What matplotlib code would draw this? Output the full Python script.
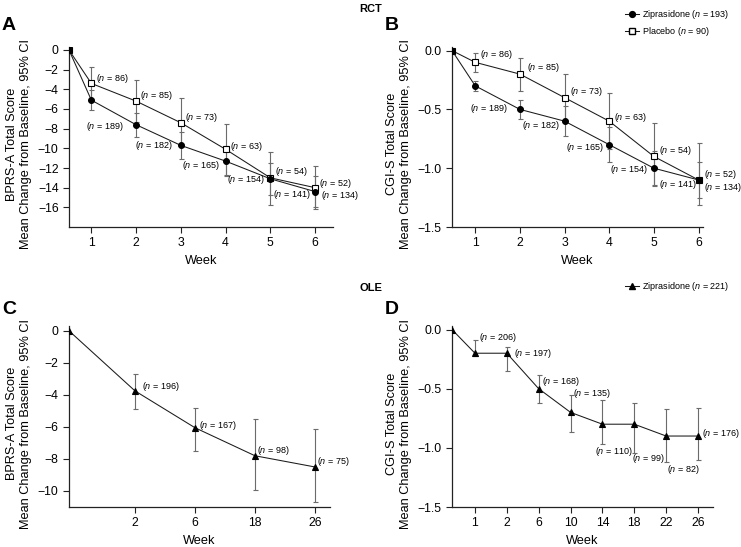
import matplotlib
matplotlib.use("Agg")
import matplotlib.pyplot as plt
from matplotlib.lines import Line2D

plt.rcParams['font.family'] = ['Liberation Sans', 'DejaVu Sans']
plt.rcParams['mathtext.fontset'] = 'custom'
plt.rcParams['mathtext.it'] = 'Liberation Sans:italic'
plt.rcParams['mathtext.rm'] = 'Liberation Sans'

# ---- RCT data (baseline + weeks 1-6) ----
rct_weeks = [1, 2, 3, 4, 5, 6]

bprs_zip = [0, -5.1, -7.6, -9.7, -11.3, -13.1, -14.4]
bprs_zip_lo = [0, -6.1, -8.8, -11.1, -12.8, -14.7, -16.0]
bprs_zip_hi = [0, -4.1, -6.4, -8.3, -9.8, -11.5, -12.8]
bprs_pbo = [0, -3.4, -5.2, -7.4, -10.1, -13.0, -14.0]
bprs_pbo_lo = [0, -5.1, -7.3, -9.9, -12.7, -15.8, -16.2]
bprs_pbo_hi = [0, -1.7, -3.1, -4.9, -7.5, -10.4, -11.8]
bprs_zip_n = [189, 182, 165, 154, 141, 134]
bprs_pbo_n = [86, 85, 73, 63, 54, 52]

cgi_zip = [0, -0.3, -0.5, -0.6, -0.8, -1.0, -1.1]
cgi_zip_lo = [0, -0.34, -0.58, -0.73, -0.95, -1.15, -1.25]
cgi_zip_hi = [0, -0.26, -0.42, -0.47, -0.65, -0.85, -0.95]
cgi_pbo = [0, -0.1, -0.2, -0.4, -0.6, -0.9, -1.1]
cgi_pbo_lo = [0, -0.18, -0.34, -0.6, -0.84, -1.14, -1.31]
cgi_pbo_hi = [0, -0.02, -0.06, -0.2, -0.36, -0.62, -0.79]
cgi_zip_n = [189, 182, 165, 154, 141, 134]
cgi_pbo_n = [86, 85, 73, 63, 54, 52]

# ---- OLE data ----
ole_bprs_weeks = ['2', '6', '18', '26']
ole_bprs = [0, -3.75, -6.05, -7.8, -8.5]
ole_bprs_lo = [0, -4.9, -7.5, -9.95, -10.7]
ole_bprs_hi = [0, -2.7, -4.8, -5.5, -6.15]
ole_bprs_n = [196, 167, 98, 75]

ole_cgi_weeks = ['1', '2', '6', '10', '14', '18', '22', '26']
ole_cgi = [0, -0.2, -0.2, -0.5, -0.7, -0.8, -0.8, -0.9, -0.9]
ole_cgi_lo = [0, -0.22, -0.35, -0.625, -0.87, -0.97, -1.04, -1.12, -1.1]
ole_cgi_hi = [0, -0.085, -0.15, -0.38, -0.555, -0.595, -0.625, -0.675, -0.665]
ole_cgi_n = [206, 197, 168, 135, 110, 99, 82, 176]

# label offsets in pixels (dx, dy), text left-aligned
off_a_pbo = [(5, 5), (4, 6), (4, 5), (4, 3), (5, 6), (4, 4)]
off_a_zip = [(-5, -26), (-1, -21), (1, -20), (1, -18), (3, -16), (6, -4)]
off_b_pbo = [(5, 8), (7, 7), (5, 6), (5, 4), (5, 6), (5, 5)]
off_b_zip = [(-5, -23), (2, -16), (1, -26), (1, -25), (5, -16), (5, -8)]
off_c = [(7, 4), (4, 2), (2, 5), (2, 5)]
off_d = [(4, 16), (7, 0), (3, 7), (2, 19), (-7, -27), (-2, -34), (1, -33), (4, 3)]

ERR = '#6b6b6b'
LAB = 6.5


def nlab(n):
    return r'($\it{n}$ = %d)' % n


def style_axes(ax, ylabel, ylab_x):
    for s in ['top', 'right']:
        ax.spines[s].set_visible(False)
    for s in ['left', 'bottom']:
        ax.spines[s].set_linewidth(0.9)
        ax.spines[s].set_color('#222222')
    ax.tick_params(direction='out', length=4, width=0.8, labelsize=8.8, color='#222222')
    ax.set_ylabel(ylabel, fontsize=9.2, linespacing=1.25)
    ax.yaxis.set_label_coords(ylab_x, 0.46)
    ax.set_xlabel('Week', fontsize=9.2)
    ax.xaxis.set_label_coords(0.5, -0.155)


def draw_series(ax, x, y, lo, hi, marker, face, ms):
    yerr = [[yy - l for yy, l in zip(y, lo)], [h - yy for yy, h in zip(y, hi)]]
    ax.errorbar(x[1:], y[1:], yerr=[yerr[0][1:], yerr[1][1:]], fmt='none',
                ecolor=ERR, elinewidth=0.8, capsize=1.8, capthick=0.8, zorder=2)
    ax.plot(x, y, color='#1a1a1a', lw=0.75, marker=marker, ms=ms,
            mfc=face, mec='black', mew=0.8, zorder=3)


def annotate(ax, x, y, ns, offs):
    for xi, yi, n, (dx, dy) in zip(x, y, ns, offs):
        ax.annotate(nlab(n), (xi, yi), xytext=(dx, dy), textcoords='offset pixels',
                    fontsize=LAB, ha='left', va='center')


fig = plt.figure(figsize=(7.41, 5.47), dpi=100)

# Panel A
axA = fig.add_axes([0.0931, 0.585, 0.3563, 0.329])
x0 = 0.5
xr = [x0] + rct_weeks
draw_series(axA, xr, bprs_pbo, bprs_pbo_lo, bprs_pbo_hi, 's', 'white', 4.2)
draw_series(axA, xr, bprs_zip, bprs_zip_lo, bprs_zip_hi, 'o', 'black', 4.2)
annotate(axA, xr[1:], bprs_pbo[1:], bprs_pbo_n, off_a_pbo)
annotate(axA, xr[1:], bprs_zip[1:], bprs_zip_n, off_a_zip)
axA.set_xlim(x0, 6.4)
axA.set_ylim(-18, 0.3)
axA.set_xticks(rct_weeks)
axA.set_yticks(range(0, -17, -2))
style_axes(axA, 'BPRS-A Total Score\nMean Change from Baseline, 95% CI', -0.14)

# Panel B
axB = fig.add_axes([0.61, 0.585, 0.3387, 0.329])
x0b = 0.48
xb = [x0b] + rct_weeks
draw_series(axB, xb, cgi_pbo, cgi_pbo_lo, cgi_pbo_hi, 's', 'white', 4.2)
draw_series(axB, xb, cgi_zip, cgi_zip_lo, cgi_zip_hi, 'o', 'black', 4.2)
annotate(axB, xb[1:], cgi_pbo[1:], cgi_pbo_n, off_b_pbo)
annotate(axB, xb[1:], cgi_zip[1:], cgi_zip_n, off_b_zip)
axB.set_xlim(x0b, 6.1)
axB.set_ylim(-1.5, 0.03)
axB.set_xticks(rct_weeks)
axB.set_yticks([0.0, -0.5, -1.0, -1.5])
axB.set_yticklabels(['0.0', '\u22120.5', '\u22121.0', '\u22121.5'])
style_axes(axB, 'CGI-S Total Score\nMean Change from Baseline, 95% CI', -0.16)

# Panel C
axC = fig.add_axes([0.0931, 0.0731, 0.3522, 0.3309])
pos_c = list(range(1, len(ole_bprs_weeks) + 1))
xc = [-0.1] + pos_c
draw_series(axC, xc, ole_bprs, ole_bprs_lo, ole_bprs_hi, '^', 'black', 4.6)
annotate(axC, xc[1:], ole_bprs[1:], ole_bprs_n, off_c)
axC.set_xlim(-0.1, 4.25)
axC.set_ylim(-11, 0.3)
axC.set_xticks(pos_c)
axC.set_xticklabels(ole_bprs_weeks)
axC.set_yticks(range(0, -11, -2))
style_axes(axC, 'BPRS-A Total Score\nMean Change from Baseline, 95% CI', -0.142)

# Panel D
axD = fig.add_axes([0.61, 0.0731, 0.3522, 0.3309])
pos_d = list(range(1, len(ole_cgi_weeks) + 1))
xd = [0.28] + pos_d
draw_series(axD, xd, ole_cgi, ole_cgi_lo, ole_cgi_hi, '^', 'black', 4.6)
annotate(axD, xd[1:], ole_cgi[1:], ole_cgi_n, off_d)
axD.set_xlim(0.28, 8.47)
axD.set_ylim(-1.5, 0.03)
axD.set_xticks(pos_d)
axD.set_xticklabels(ole_cgi_weeks)
axD.set_yticks([0.0, -0.5, -1.0, -1.5])
axD.set_yticklabels(['0.0', '\u22120.5', '\u22121.0', '\u22121.5'])
style_axes(axD, 'CGI-S Total Score\nMean Change from Baseline, 95% CI', -0.153)

# section titles and panel letters
fig.text(0.5, 1 - 9 / 547, 'RCT', ha='center', va='center', fontsize=8, fontweight='bold')
fig.text(0.5, 1 - 288 / 547, 'OLE', ha='center', va='center', fontsize=8, fontweight='bold')
for lt, (px, py) in zip('ABCD', [(2, 26), (385, 26), (2, 309), (385, 309)]):
    fig.text(px / 741, 1 - py / 547, lt, ha='left', va='center', fontsize=14, fontweight='bold')

# legends
h_zip = Line2D([], [], color='#1a1a1a', lw=0.75, marker='o', ms=4.2, mfc='black', mec='black')
h_pbo = Line2D([], [], color='#1a1a1a', lw=0.75, marker='s', ms=4.2, mfc='white', mec='black')
fig.legend([h_zip, h_pbo], [r'Ziprasidone ($\it{n}$ = 193)', r'Placebo ($\it{n}$ = 90)'],
           loc='upper left', bbox_to_anchor=(625 / 741, 1 - 8 / 547), frameon=False,
           fontsize=LAB, borderpad=0, borderaxespad=0, handlelength=1.6,
           handletextpad=0.3, labelspacing=0.45)
h_ole = Line2D([], [], color='#1a1a1a', lw=0.75, marker='^', ms=4.6, mfc='black', mec='black')
fig.legend([h_ole], [r'Ziprasidone ($\it{n}$ = 221)'],
           loc='upper left', bbox_to_anchor=(625 / 741, 1 - 280 / 547), frameon=False,
           fontsize=LAB, borderpad=0, borderaxespad=0, handlelength=1.6,
           handletextpad=0.3)

fig.savefig('out.png', dpi=100)
